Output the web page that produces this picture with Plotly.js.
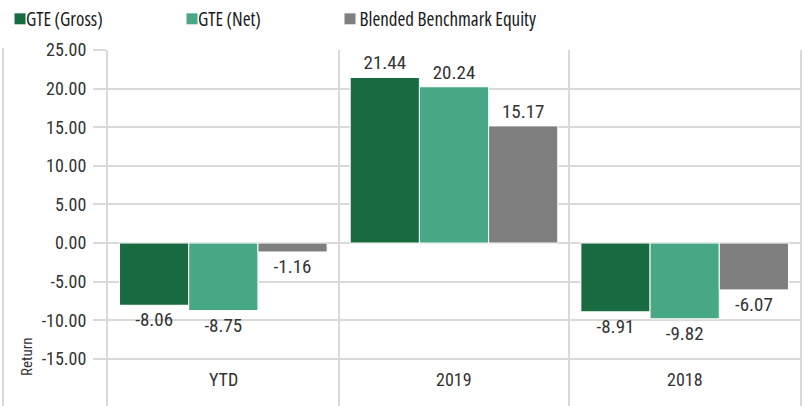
<!DOCTYPE html>
<html>
<head>
<meta charset="utf-8">
<script src="https://cdn.plot.ly/plotly-3.0.1.min.js"></script>
<style>
html,body{margin:0;padding:0;background:#fff;}
#chart{width:804px;height:406px;}
</style>
</head>
<body>
<div id="chart"></div>
<script>
const categories = ["YTD", "2019", "2018"];
const seriesNames = ["GTE (Gross)", "GTE (Net)", " Blended Benchmark Equity"];
const gross = [-8.06, 21.44, -8.91];
const net = [-8.75, 20.24, -9.82];
const benchmark = [-1.16, 15.17, -6.07];
const yTickVals = [-15, -10, -5, 0, 5, 10, 15, 20, 25];
const yTickText = ["-15.00", "-10.00", "-5.00", "0.00", "5.00", "10.00", "15.00", "20.00", "25.00"];
const colors = ["#186b40", "#48a886", "#7f7f7f"];

const numFont = '"Roboto Condensed", Roboto, sans-serif';
const legFont = '"Open Sans", Lato, sans-serif';

const allSeries = [gross, net, benchmark];
const legendIds = ["legend", "legend2", "legend3"];
const traces = allSeries.map((vals, i) => ({
  type: "bar",
  name: seriesNames[i],
  x: categories.map((c, k) => k),
  y: vals,
  marker: {color: colors[i], line: {color: "#ffffff", width: 1}},
  text: vals.map(v => v.toFixed(2)),
  textposition: "outside",
  textfont: {family: numFont, size: 19, color: "#333333"},
  cliponaxis: false,
  hoverinfo: "none",
  legend: legendIds[i]
}));

const legendBase = {
  orientation: "h",
  xref: "container", yref: "container",
  xanchor: "left", yanchor: "middle",
  font: {family: legFont, size: 19, color: "#1a1a1a"},
  bgcolor: "rgba(0,0,0,0)",
  itemwidth: 30
};
const legendX = [0, 172, 330];

const layout = {
  width: 804, height: 406,
  margin: {l: 108, r: 4, t: 50, b: 0},
  paper_bgcolor: "#ffffff",
  plot_bgcolor: "#ffffff",
  showlegend: true,
  barmode: "group",
  bargap: 0.1,
  bargroupgap: 0.0,
  legend: Object.assign({}, legendBase, {x: legendX[0] / 804, y: 1 - 19 / 406}),
  legend2: Object.assign({}, legendBase, {x: legendX[1] / 804, y: 1 - 19 / 406}),
  legend3: Object.assign({}, legendBase, {x: legendX[2] / 804, y: 1 - 19 / 406}),
  xaxis: {
    type: "linear",
    showticklabels: false,
    ticks: "",
    tickvals: [0.5, 1.5],
    showgrid: true,
    gridcolor: "#d9d9d9",
    gridwidth: 2,
    showline: false,
    zeroline: false,
    range: [-0.5, 2.5],
    fixedrange: true
  },
  yaxis: {
    range: [-21.11, 25],
    tickvals: yTickVals,
    ticktext: yTickText,
    ticks: "outside",
    ticklen: 13,
    tickwidth: 2,
    tickcolor: "#d9d9d9",
    ticklabelstandoff: 3,
    tickfont: {family: numFont, size: 18, color: "#333333"},
    showgrid: true,
    gridcolor: "#d9d9d9",
    gridwidth: 2,
    zeroline: false,
    showline: true,
    mirror: true,
    linecolor: "#d9d9d9",
    linewidth: 2,
    fixedrange: true
  },
  annotations: categories.map((c, k) => ({
    x: k, y: -17.7, xref: "x", yref: "y",
    xanchor: "center", yanchor: "middle",
    text: c, showarrow: false,
    font: {family: numFont, size: 18, color: "#333333"}
  })).concat([{
    xref: "paper", yref: "paper",
    x: (27 - 108) / 692, y: (406 - 357) / 356,
    xanchor: "center", yanchor: "middle",
    text: "Return", textangle: -90, showarrow: false,
    font: {family: numFont, size: 15, color: "#333333"}
  }]),
  shapes: [{
    type: "line", xref: "paper", yref: "paper",
    x0: (3 - 108) / 692, x1: (3 - 108) / 692, y0: 1.005, y1: 0,
    line: {color: "#d9d9d9", width: 2}
  }]
};

function tweakLegend(gd) {
  const names = seriesNames.map(s => s.trim());
  gd.querySelectorAll("text").forEach(t => {
    if (names.indexOf((t.textContent || "").trim()) >= 0) {
      t.style.fontStretch = "condensed";
      t.setAttribute("x", "26");
    }
  });
}

Plotly.newPlot("chart", traces, layout, {staticPlot: true, displayModeBar: false}).then(gd => {
  tweakLegend(gd);
  setTimeout(() => tweakLegend(gd), 50);
});
</script>
</body>
</html>
